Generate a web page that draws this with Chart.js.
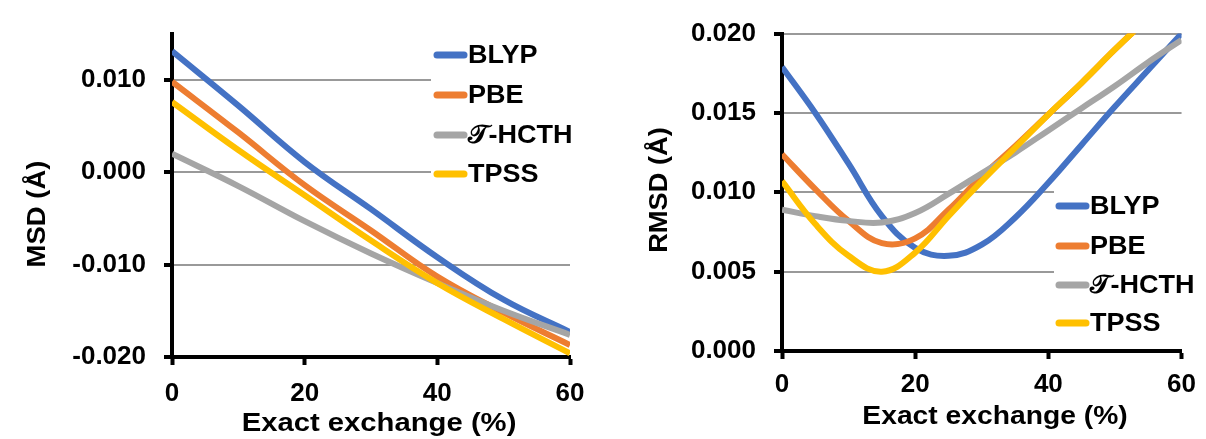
<!DOCTYPE html>
<html>
<head>
<meta charset="utf-8">
<script src="https://cdn.jsdelivr.net/npm/chart.js@4.4.0/dist/chart.umd.min.js"></script>
<style>
  body { margin: 0; background: #fff; }
  #msd { position: absolute; left: 0; top: 0; }
  #rmsd { position: absolute; left: 600px; top: 0; }
</style>
</head>
<body>
<canvas id="msd" width="600" height="439"></canvas>
<canvas id="rmsd" width="606" height="439"></canvas>
<script>
const seriesNames = ['BLYP', 'PBE', '𝒯-HCTH', 'TPSS']
const seriesColors = ['#4472C4', '#ED7D31', '#A5A5A5', '#FFC000']

// left panel: mean signed deviation
const exchangeMSD = [0, 10, 20, 30, 40, 50, 60]
const msdBLYP = [0.0131, 0.0072, 0.0011, -0.0040, -0.0092, -0.0138, -0.0173]
const msdPBE = [0.0098, 0.0043, -0.0014, -0.0063, -0.0113, -0.0152, -0.0187]
const msdHCTH = [0.0020, -0.0015, -0.0053, -0.0088, -0.0120, -0.0150, -0.0176]
const msdTPSS = [0.0076, 0.0024, -0.0025, -0.0074, -0.0120, -0.0159, -0.0196]
const msdTicks = [-0.02, -0.01, 0, 0.01]

// right panel: root mean square deviation
const exchangeRMSD = [0, 5, 10, 15, 20, 25, 30, 35, 40, 45, 50, 55, 60]
const rmsdBLYP = [0.0179, 0.0150, 0.0118, 0.0085, 0.0065, 0.0060, 0.0067, 0.0084, 0.0106, 0.0130, 0.0154, 0.0177, 0.0200]
const rmsdPBE = [0.0124, 0.0102, 0.0082, 0.0068, 0.0071, 0.0089, 0.0110, 0.0129, 0.0149, 0.0169, 0.0190, 0.0210, 0.0230]
const rmsdHCTH = [0.0089, 0.0085, 0.0082, 0.0081, 0.0087, 0.0099, 0.0112, 0.0125, 0.0139, 0.0153, 0.0167, 0.0182, 0.0196]
const rmsdTPSS = [0.0107, 0.0080, 0.0060, 0.0050, 0.0062, 0.0085, 0.0107, 0.0128, 0.0149, 0.0169, 0.0190, 0.0210, 0.0230]
const rmsdTicks = [0, 0.005, 0.01, 0.015, 0.02]

const xTicks = [0, 20, 40, 60]

const FONT = { family: "'Liberation Sans', Arial, sans-serif", size: 26, weight: 'bold' }
const CANVAS_FONT = "bold 25px 'Liberation Sans', 'DejaVu Sans', sans-serif"

// the text in the figure is a little wider than plain Arial, so stretch it
function stretchedText(ctx, text, x, y, sx, rot) {
    ctx.save()
    ctx.translate(x, y)
    if (rot) ctx.rotate(rot)
    ctx.scale(sx, 1)
    ctx.fillText(text, 0, 0)
    ctx.restore()
}

// legend in a white box on top of the plot, plus the axis titles
const decor = {
    id: 'decor',
    afterDraw(chart, args, opts) {
        const ctx = chart.ctx
        ctx.save()
        ctx.fillStyle = '#fff'
        ctx.fillRect(opts.box[0], opts.box[1], opts.box[2], opts.box[3])
        ctx.font = CANVAS_FONT
        ctx.textBaseline = 'middle'
        seriesNames.forEach((name, i) => {
            const y = opts.legendY[i]
            ctx.strokeStyle = seriesColors[i]
            ctx.lineWidth = 7
            ctx.lineCap = 'round'
            ctx.beginPath()
            ctx.moveTo(opts.legendX + 4, y)
            ctx.lineTo(opts.legendX + 31, y)
            ctx.stroke()
            ctx.fillStyle = '#000'
            ctx.textAlign = 'left'
            stretchedText(ctx, name, opts.legendX + 35, y + 1, 1.08)
        })
        ctx.textAlign = 'center'
        stretchedText(ctx, 'Exact exchange (%)', opts.xTitle[0], opts.xTitle[1], opts.xTitle[2])
        stretchedText(ctx, opts.yLabel, opts.yTitle[0], opts.yTitle[1], opts.yTitle[2], -Math.PI / 2)
        ctx.restore()
    }
}

function makeDatasets(xs, lists) {
    return lists.map((vals, i) => ({
        label: seriesNames[i],
        data: xs.map((x, j) => ({ x: x, y: vals[j] })),
        borderColor: seriesColors[i],
        borderWidth: 6,
        pointRadius: 0,
        tension: 0.4,
        order: lists.length - i
    }))
}

function makeChart(id, xs, lists, yMin, yMax, yTicks, layout, decorOpts) {
    return new Chart(document.getElementById(id), {
        type: 'line',
        data: { datasets: makeDatasets(xs, lists) },
        plugins: [decor],
        options: {
            responsive: false,
            animation: false,
            layout: { padding: { top: layout.top, right: layout.right, left: 0, bottom: 0 } },
            plugins: {
                legend: { display: false },
                tooltip: { enabled: false },
                decor: decorOpts
            },
            scales: {
                x: {
                    type: 'linear',
                    min: 0,
                    max: 60,
                    afterBuildTicks: s => { s.ticks = xTicks.map(v => ({ value: v })) },
                    afterFit: s => { s.height = layout.xAxisHeight },
                    ticks: { font: FONT, color: '#000', padding: layout.xPad, maxRotation: 0 },
                    grid: { drawOnChartArea: false, drawTicks: true, tickLength: 8, tickColor: '#000', tickWidth: 4 },
                    border: { color: '#000', width: 4 }
                },
                y: {
                    min: yMin,
                    max: yMax,
                    afterBuildTicks: s => { s.ticks = yTicks.map(v => ({ value: v })) },
                    afterFit: s => { s.width = layout.yAxisWidth },
                    ticks: { font: FONT, color: '#000', padding: 18, callback: v => v.toFixed(3) },
                    grid: { color: '#999', lineWidth: 2, tickLength: 8, tickColor: '#000', tickWidth: 4 },
                    border: { color: '#000', width: 4 }
                }
            }
        }
    })
}

makeChart('msd', exchangeMSD, [msdBLYP, msdPBE, msdHCTH, msdTPSS], -0.02, 0.015, msdTicks,
    { top: 28, right: 30, xAxisHeight: 82, yAxisWidth: 172, xPad: 13 },
    { box: [431, 36, 169, 160], legendX: 433, legendY: [55, 95, 135, 174],
      xTitle: [379, 424, 1.17], yTitle: [38, 214, 1.1], yLabel: 'MSD (Å)' })

makeChart('rmsd', exchangeRMSD, [rmsdBLYP, rmsdPBE, rmsdHCTH, rmsdTPSS], 0, 0.02, rmsdTicks,
    { top: 28, right: 20, xAxisHeight: 88, yAxisWidth: 182, xPad: 10 },
    { box: [454, 186, 152, 156], legendX: 455, legendY: [206, 246, 285, 323],
      xTitle: [395, 417, 1.13], yTitle: [60, 190, 1.09], yLabel: 'RMSD (Å)' })
</script>
</body>
</html>
